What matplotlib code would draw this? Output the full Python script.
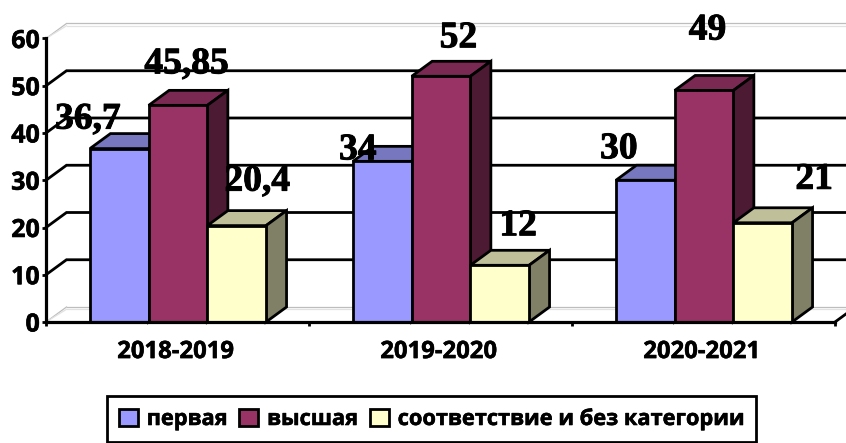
import matplotlib
matplotlib.use("Agg")
import matplotlib.pyplot as plt
import matplotlib.patheffects as pe
from matplotlib.patches import Rectangle

years = ["2018-2019", "2019-2020", "2020-2021"]
series_names = ["первая", "высшая", "соответствие и без категории"]
first = [36.7, 34, 30]
highest = [45.85, 52, 49]
other = [20.4, 12, 21]
label_text = [["36,7", "34", "30"], ["45,85", "52", "49"], ["20,4", "12", "21"]]
y_ticks = [0, 10, 20, 30, 40, 50, 60]

# styling
W, H = 846, 443
L, R, B, T = 46, 835, 322, 38.5
front = ["#9999FF", "#993366", "#FFFFCC"]
top = ["#7777BF", "#7A2952", "#BFBF99"]
side = ["#4D4D80", "#4D1A33", "#808066"]
# label offsets from bar's top centre, pixels (dx, dy up)
offsets = [[(-31, 20), (-24, 2), (-26, 22)],
           [(9, 32), (18, 29), (4, 51)],
           [(21, 35), (19, 30), (52, 34)]]
SANS = "Open Sans"
SERIF = "Liberation Serif"
LW = 2.0
heavy = [pe.withStroke(linewidth=0.7, foreground="black")]
heavy_sm = [pe.withStroke(linewidth=0.4, foreground="black")]

fig = plt.figure(figsize=(W / 100, H / 100), dpi=100)
ax = fig.add_axes([L / W, 1 - B / H, (R - L) / W, (B - T) / H])
ax.set_xlim(0, 3)
ax.set_ylim(0, 60)
px_x = 3 / (R - L)
px_y = 60 / (B - T)
dx = 20.5 * px_x
dy = 15 * px_y

# walls and gridlines
for v in y_ticks:
    if v in (0, 60):
        for shift, col in ((0, "#BDBDBD"), (-2.3 * px_y, "#E2E2E2")):
            ax.plot([0, dx], [v, v + dy + shift], color=col, lw=0.9, clip_on=False, zorder=1)
            ax.plot([dx, 3 + dx], [v + dy + shift] * 2, color=col, lw=0.9, clip_on=False, zorder=1)
    else:
        ax.plot([0, dx, 3 + dx], [v, v + dy, v + dy], color="black", lw=LW,
                clip_on=False, zorder=1, solid_joinstyle="miter")
ax.plot([3, 3 + dx], [0, dy], color="black", lw=LW, clip_on=False, zorder=1)

# bars
bw = 58.7 * px_x
data = [first, highest, other]
z = 3
for g in range(len(years)):
    for s, values in enumerate(data):
        v = values[g]
        x0 = g + 0.5 + (s - 1.5) * bw + 0.5 * px_x
        x1 = x0 + bw
        ax.fill([x0, x0 + dx, x1 + dx, x1], [v, v + dy, v + dy, v], facecolor=top[s],
                edgecolor="black", lw=LW, clip_on=False, zorder=z, joinstyle="miter")
        ax.fill([x1, x1 + dx, x1 + dx, x1], [0, dy, v + dy, v], facecolor=side[s],
                edgecolor="black", lw=LW, clip_on=False, zorder=z, joinstyle="miter")
        ax.bar(x0, v, width=bw, align="edge", color=front[s], edgecolor="black",
               lw=LW, clip_on=False, zorder=z + 0.5)
        z += 1

# data labels
for s, values in enumerate(data):
    for g, v in enumerate(values):
        xc = g + 0.5 + (s - 1) * bw
        ox, oy = offsets[s][g]
        ax.annotate(label_text[s][g], (xc, v), xytext=(ox * 0.72, oy * 0.72),
                    textcoords="offset points", ha="center", va="baseline",
                    family=SERIF, fontweight="bold", fontsize=27, color="black",
                    zorder=100, annotation_clip=False, path_effects=heavy)

# axes
for name in ("top", "right"):
    ax.spines[name].set_visible(False)
for name in ("left", "bottom"):
    ax.spines[name].set_linewidth(LW + 0.3)
    ax.spines[name].set_zorder(50)
ax.set_facecolor("none")
ax.set_yticks(y_ticks)
ax.set_yticklabels([str(v) for v in y_ticks], family=SANS, fontweight="bold", fontsize=18,
                   path_effects=heavy_sm)
ax.tick_params(axis="y", length=3, width=LW, pad=1.5)
ax.set_xticks(range(4))
ax.set_xticklabels([])
ax.set_xticks([0.5 - 0.007, 1.5 - 0.007, 2.5 - 0.007], minor=True)
ax.set_xticklabels(years, minor=True, family=SANS, fontweight="bold", fontsize=17.2,
                   path_effects=heavy_sm)
ax.tick_params(axis="x", which="major", length=3, width=LW)
ax.tick_params(axis="x", which="minor", length=0, pad=13)

# legend
handles = [Rectangle((0, 0), 1, 1, facecolor=c, edgecolor="black", lw=LW) for c in front]
leg = fig.legend(handles, series_names, loc="lower left", bbox_to_anchor=(107 / W, 1 / H),
                 borderaxespad=0, ncol=3, frameon=True, fancybox=False, edgecolor="black",
                 framealpha=1, prop={"family": SANS, "weight": "bold", "size": 15.7},
                 handlelength=0.85, handleheight=0.85, handletextpad=0.42, columnspacing=0.55,
                 borderpad=0.55)
leg.get_frame().set_linewidth(LW)
for t in leg.get_texts():
    t.set_path_effects(heavy_sm)

fig.savefig("out.png", dpi=100)
